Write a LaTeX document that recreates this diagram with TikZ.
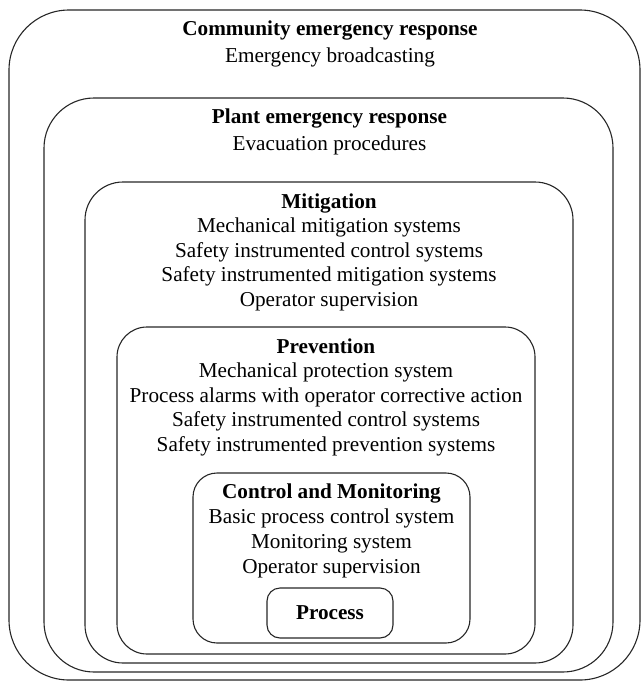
\documentclass[tikz,border=0pt]{standalone}
\usepackage{fontspec}
\setmainfont{Liberation Serif}
\begin{document}
\begin{tikzpicture}[x=1pt,y=-1pt,
  layerbox/.style={draw=black!85,line width=1.1pt},
  txt/.style={anchor=base,inner sep=0pt,font=\fontsize{21.2}{24}\selectfont},
  ttl/.style={txt,font=\fontsize{21.2}{24}\selectfont\bfseries}]
\useasboundingbox (0,0) rectangle (643,681);
% boxes
\draw[layerbox,rounded corners=60pt] (9,10) rectangle (640,680);
\draw[layerbox,rounded corners=50pt] (44,98) rectangle (613,672);
\draw[layerbox,rounded corners=38pt] (85,182) rectangle (573,663);
\draw[layerbox,rounded corners=30pt] (117,327) rectangle (535,654);
\draw[layerbox,rounded corners=24pt] (193,473) rectangle (470,643);
\draw[layerbox,rounded corners=13pt] (267,588) rectangle (393,638);
% community
\node[ttl] (c1) at (330,35) {Community emergency response};
\node[txt] (c2) at (330,62) {Emergency broadcasting};
% plant
\node[ttl] (p1) at (329.5,123) {Plant emergency response};
\node[txt] (p2) at (329.5,150) {Evacuation procedures};
% mitigation
\node[ttl] (m1) at (329,208) {Mitigation};
\node[txt] (m2) at (329,232.5) {Mechanical mitigation systems};
\node[txt] (m3) at (329,257) {Safety instrumented control systems};
\node[txt] (m4) at (329,281.5) {Safety instrumented mitigation systems};
\node[txt] (m5) at (329,306) {Operator supervision};
% prevention
\node[ttl] (v1) at (326,353) {Prevention};
\node[txt] (v2) at (326,377.5) {Mechanical protection system};
\node[txt] (v3) at (326,402) {Process alarms with operator corrective action};
\node[txt] (v4) at (326,426.5) {Safety instrumented control systems};
\node[txt] (v5) at (326,451) {Safety instrumented prevention systems};
% control
\node[ttl] (k1) at (331.5,498) {Control and Monitoring};
\node[txt] (k2) at (331.5,523) {Basic process control system};
\node[txt] (k3) at (331.5,548) {Monitoring system};
\node[txt] (k4) at (331.5,573) {Operator supervision};
% process
\node[ttl] (pr) at (330,619) {Process};
\end{tikzpicture}
\end{document}
